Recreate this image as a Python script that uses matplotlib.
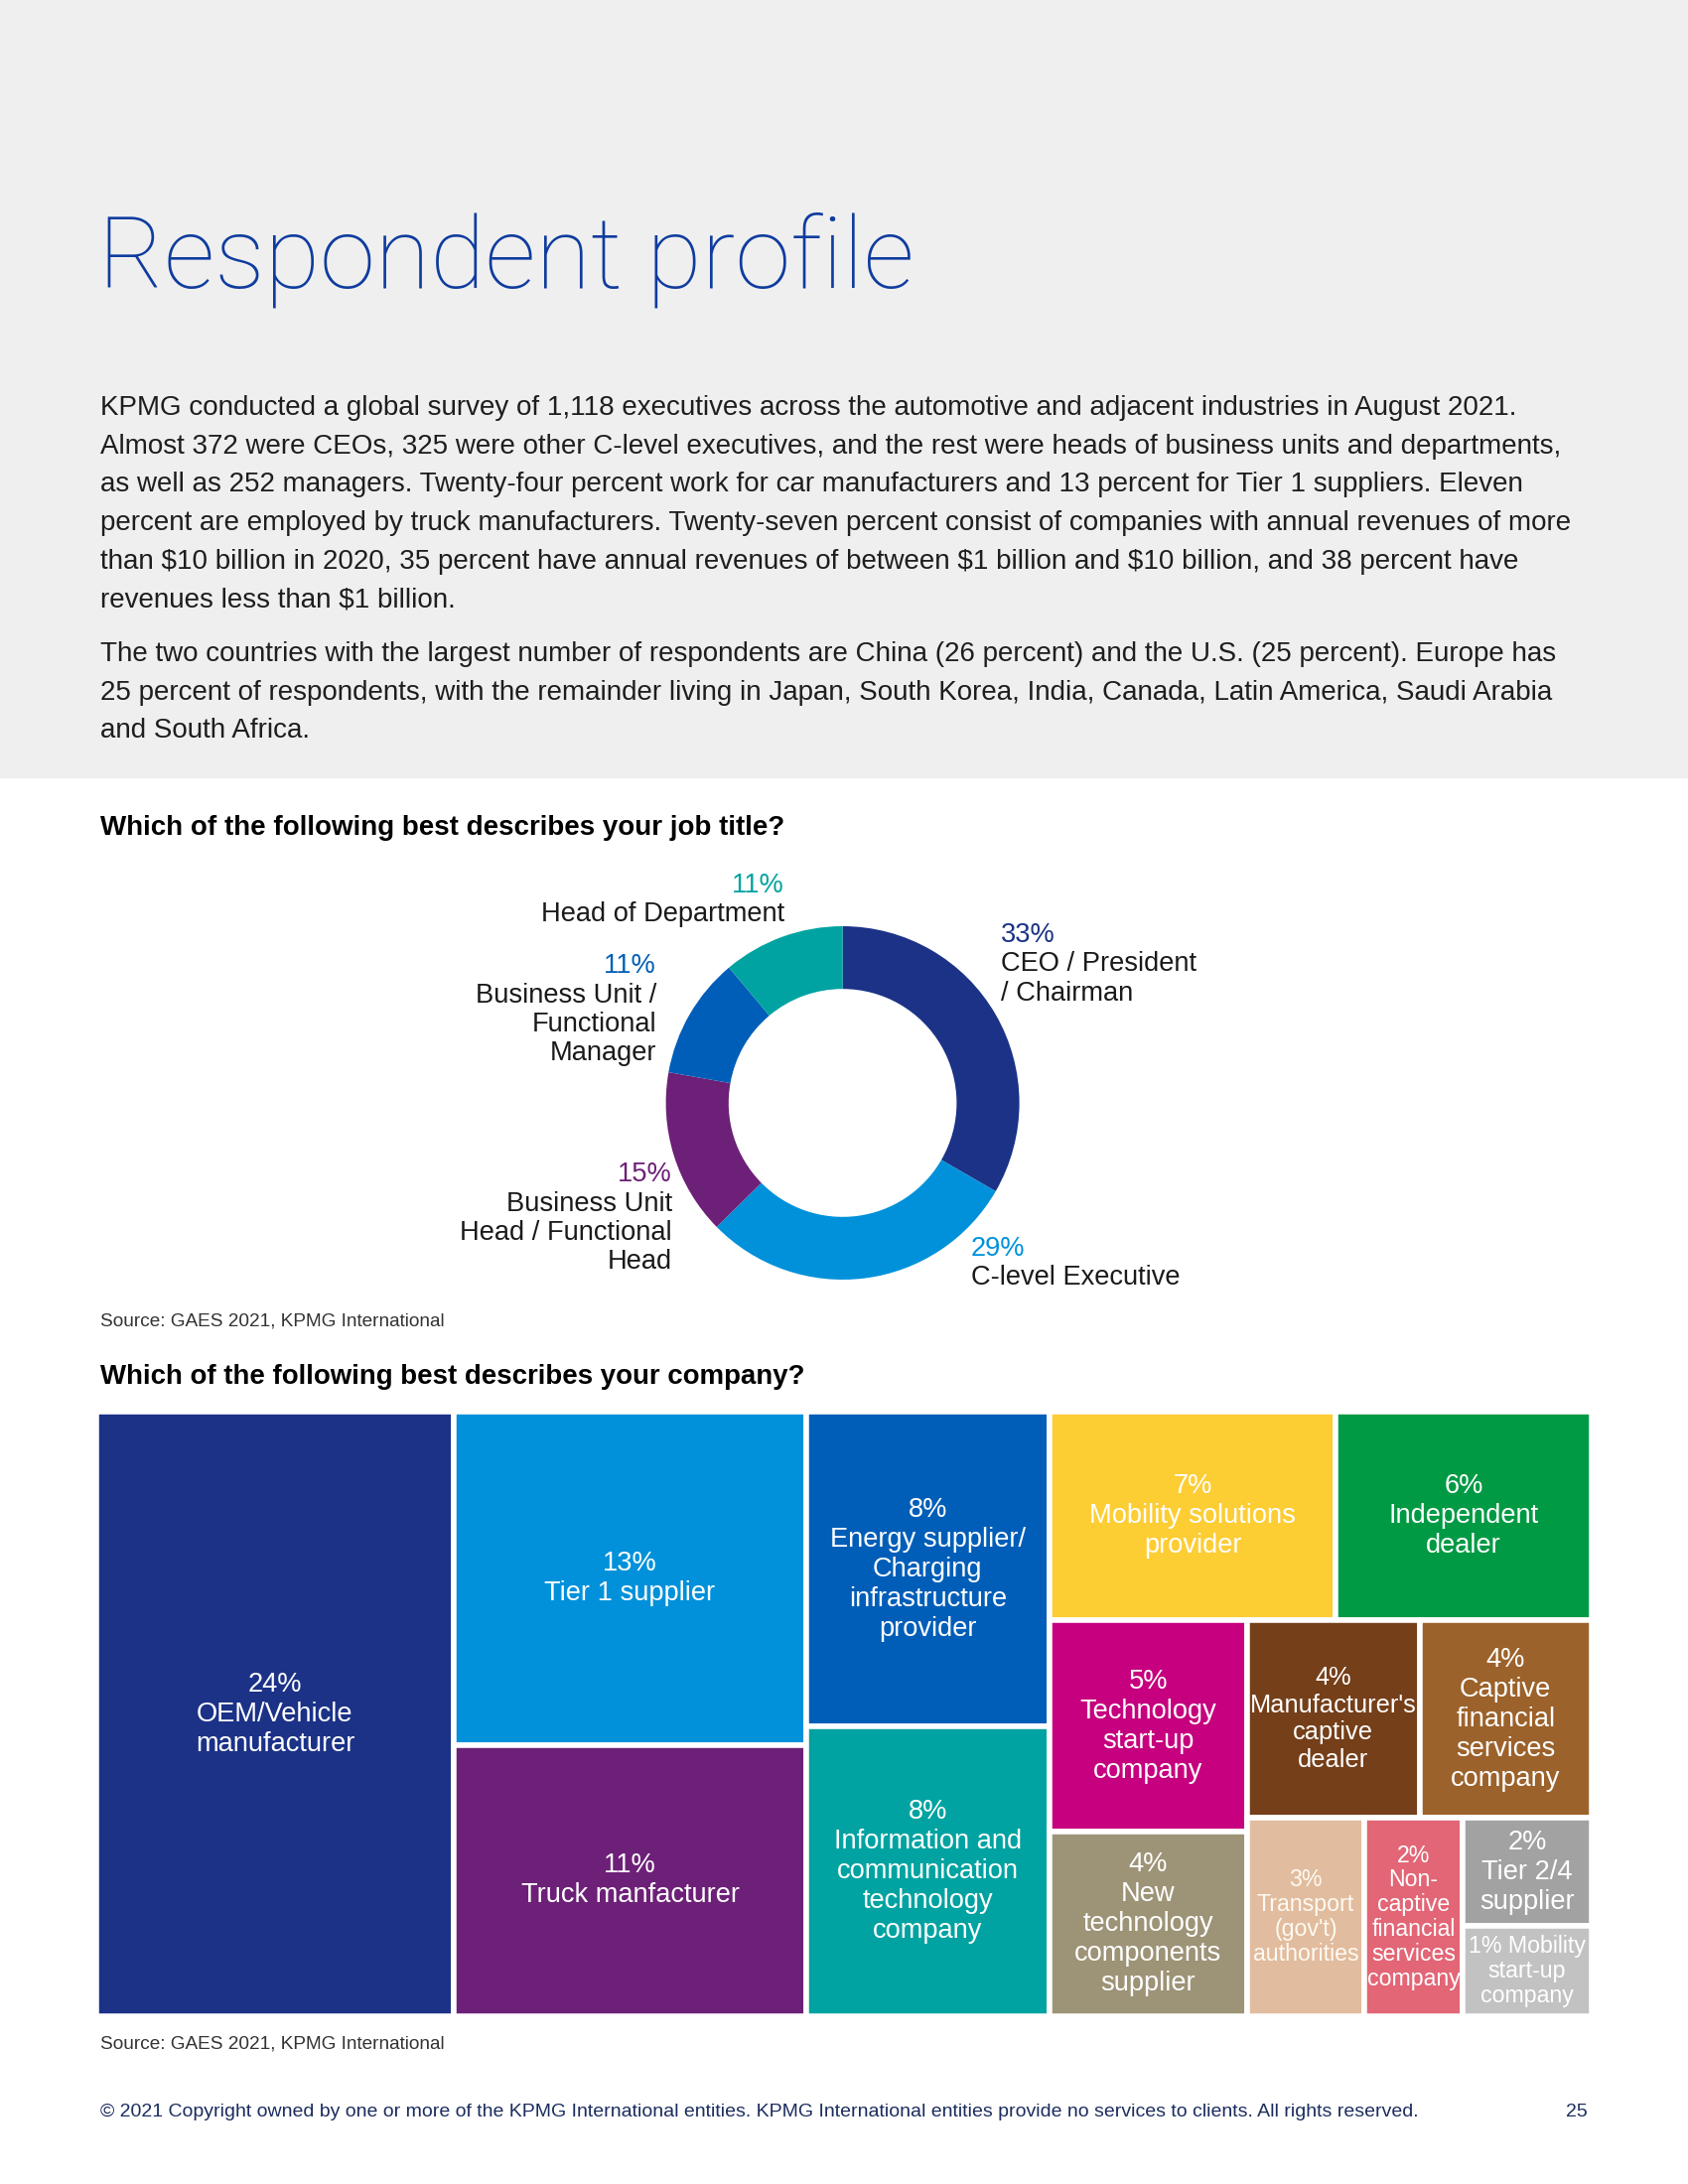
#!/usr/bin/env python3
"""Respondent profile page: job-title donut and company-type treemap."""

import matplotlib
matplotlib.use('Agg')
import matplotlib.pyplot as plt
from matplotlib.patches import Rectangle

W, H = 1700, 2200
FONT = ['Liberation Sans', 'DejaVu Sans']
THIN = ['Roboto', 'Liberation Sans', 'DejaVu Sans']

# ── Data ──────────────────────────────────────────────────────
title = 'Respondent profile'

body_lines = [
    'KPMG conducted a global survey of 1,118 executives across the automotive and adjacent industries in August 2021.',
    'Almost 372 were CEOs, 325 were other C-level executives, and the rest were heads of business units and departments,',
    'as well as 252 managers. Twenty-four percent work for car manufacturers and 13 percent for Tier 1 suppliers. Eleven',
    'percent are employed by truck manufacturers. Twenty-seven percent consist of companies with annual revenues of more',
    'than $10 billion in 2020, 35 percent have annual revenues of between $1 billion and $10 billion, and 38 percent have',
    'revenues less than $1 billion.',
]
body_lines2 = [
    'The two countries with the largest number of respondents are China (26 percent) and the U.S. (25 percent). Europe has',
    '25 percent of respondents, with the remainder living in Japan, South Korea, India, Canada, Latin America, Saudi Arabia',
    'and South Africa.',
]

q1 = 'Which of the following best describes your job title?'
job_labels = ['CEO / President\n/ Chairman', 'C-level Executive',
              'Business Unit\nHead / Functional\nHead',
              'Business Unit /\nFunctional\nManager', 'Head of Department']
job_values = [33, 29, 15, 11, 11]
job_colors = ['#1b3287', '#0091da', '#6d2077', '#005eb8', '#00a3a1']

q2 = 'Which of the following best describes your company?'
company_names = ['OEM/Vehicle\nmanufacturer', 'Tier 1 supplier', 'Truck manfacturer',
                 'Energy supplier/\nCharging\ninfrastructure\nprovider',
                 'Information and\ncommunication\ntechnology\ncompany',
                 'Mobility solutions\nprovider', 'Independent\ndealer',
                 'Technology\nstart-up\ncompany', "Manufacturer's\ncaptive\ndealer",
                 'Captive\nfinancial\nservices\ncompany',
                 'New\ntechnology\ncomponents\nsupplier',
                 "Transport\n(gov't)\nauthorities",
                 'Non-\ncaptive\nfinancial\nservices\ncompany',
                 'Tier 2/4\nsupplier', 'Mobility\nstart-up\ncompany']
# shares estimated from the tile areas (labels show them rounded)
company_values = [23.93, 12.98, 10.57, 8.47, 7.79, 6.60, 5.89, 4.64, 3.78, 3.77,
                  4.03, 2.57, 2.16, 1.54, 1.28]
company_colors = ['#1b3287', '#0091da', '#6d2077', '#005eb8', '#00a3a1',
                  '#fdcd34', '#009a44', '#c6007e', '#753f19', '#9c622b',
                  '#9d9377', '#e2bc9e', '#e26676', '#a2a2a2', '#c2c2c2']

# nesting of the treemap: 'x' splits left→right, 'y' splits top→bottom
layout = ('x', [0, ('y', [1, 2]), ('y', [3, 4]),
                ('y', [('x', [5, 6]),
                       ('x', [('y', [7, 10]),
                              ('y', [('x', [8, 9]),
                                     ('x', [11, 12, ('y', [13, 14])])])])])])

source = 'Source: GAES 2021, KPMG International'
footer = ('\u00a9 2021 Copyright owned by one or more of the KPMG International entities. '
          'KPMG International entities provide no services to clients. All rights reserved.')
page_no = '25'

# ── Page ──────────────────────────────────────────────────────
fig = plt.figure(figsize=(W / 100, H / 100), dpi=100)
fig.patch.set_facecolor('white')
page = fig.add_axes([0, 0, 1, 1])
page.set_xlim(0, W)
page.set_ylim(H, 0)
page.axis('off')
page.add_patch(Rectangle((0, 0), W, 783, color='#efefef', zorder=0))

renderer = fig.canvas.get_renderer()


def fit(t, width):
    """Scale a text's font size so it spans the given pixel width."""
    bb = t.get_window_extent(renderer)
    t.set_fontsize(t.get_fontsize() * width / bb.width)
    return t.get_fontsize()


t = page.text(99, 290, title, family=THIN, fontweight='light',
              fontstretch='condensed', fontsize=80, color='#0f3c9e',
              va='baseline')
fit(t, 822)

probe = page.text(0, 0, body_lines[3], family=FONT, fontsize=18)
body_fs = fit(probe, 1487)
probe.remove()
for i, line in enumerate(body_lines):
    page.text(101, 411 + i * 38.7, line, family=FONT, fontsize=body_fs,
              color='#1e1e1e', va='center')
for i, line in enumerate(body_lines2):
    page.text(101, 659 + i * 38.7, line, family=FONT, fontsize=body_fs,
              color='#1e1e1e', va='center')

t = page.text(101, 834, q1, family=FONT, fontweight='bold', fontsize=17,
              color='black', va='center')
fit(t, 688)
t = page.text(101, 1387, q2, family=FONT, fontweight='bold', fontsize=17,
              color='black', va='center')
fit(t, 710)

for y in (1331, 2059):
    t = page.text(101, y, source, family=FONT, fontsize=12, color='#333333',
                  va='center')
    fit(t, 348)

t = page.text(101, 2128, footer, family=FONT, fontsize=12, color='#1c2d5e',
              va='center')
fit(t, 1324)
page.text(1599, 2128, page_no, family=FONT, fontsize=t.get_fontsize(),
          color='#1c2d5e', va='center', ha='right')

# ── Donut ─────────────────────────────────────────────────────
cx, cy, r = 848.6, 1111, 178
dax = fig.add_axes([(cx - r) / W, 1 - (cy + r) / H, 2 * r / W, 2 * r / H])
dax.pie(job_values, colors=job_colors, startangle=90, counterclock=False,
        radius=1, wedgeprops=dict(width=0.355, linewidth=0))
dax.set_xlim(-1, 1)
dax.set_ylim(-1, 1)
dax.set_aspect('equal')
dax.axis('off')

lab_fs = body_fs * 0.98
step = 29.5
# (x, y of percentage line, alignment) per slice
job_pos = [(1008, 942, 'left'), (978, 1258, 'left'), (677, 1183, 'right'),
           (661, 973, 'right'), (790, 892, 'right')]
for lab, val, col, (x, y, ha) in zip(job_labels, job_values, job_colors, job_pos):
    page.text(x, y, f'{val}%', family=FONT, fontsize=lab_fs, color=col,
              ha=ha, va='center')
    for j, part in enumerate(lab.split('\n')):
        page.text(x, y + step * (j + 1), part, family=FONT, fontsize=lab_fs,
                  color='#1a1a1a', ha=ha, va='center')

# ── Treemap ───────────────────────────────────────────────────
pad = 2.8  # half of the white gap, so the outer edge lands on the page box
x0, x1, y0, y1 = 99.6 - pad, 1600 + pad, 1425 - pad, 2028 + pad
tax = fig.add_axes([x0 / W, 1 - y1 / H, (x1 - x0) / W, (y1 - y0) / H])
tax.set_xlim(0, 1)
tax.set_ylim(1, 0)
tax.axis('off')


def weight(node):
    if isinstance(node, int):
        return company_values[node]
    return sum(weight(c) for c in node[1])


def place(node, x, y, w, h, out):
    if isinstance(node, int):
        out[node] = (x, y, w, h)
        return
    axis, kids = node
    tot = sum(weight(k) for k in kids)
    pos = 0.0
    for k in kids:
        frac = weight(k) / tot
        if axis == 'x':
            place(k, x + pos * w, y, frac * w, h, out)
        else:
            place(k, x, y + pos * h, w, frac * h, out)
        pos += frac


rects = {}
place(layout, 0, 0, 1, 1, rects)
small = {11, 12, 14}
for i, (name, val, col) in enumerate(zip(company_names, company_values, company_colors)):
    x, y, w, h = rects[i]
    tax.add_patch(Rectangle((x, y), w, h, facecolor=col, edgecolor='white',
                            linewidth=4))
    sep = ' ' if i == 14 else '\n'
    fs = lab_fs * (0.85 if i in small else 0.93 if i == 8 else 1.0)
    tax.text(x + w / 2, y + h / 2, f'{round(val)}%{sep}{name}', family=FONT,
             fontsize=fs, color='#fdfaf3' if i == 11 else 'white',
             ha='center', va='center',
             linespacing=1.1 if i in small else 1.2)

fig.savefig('out.png', dpi=100, facecolor='white')
print('saved out.png')
